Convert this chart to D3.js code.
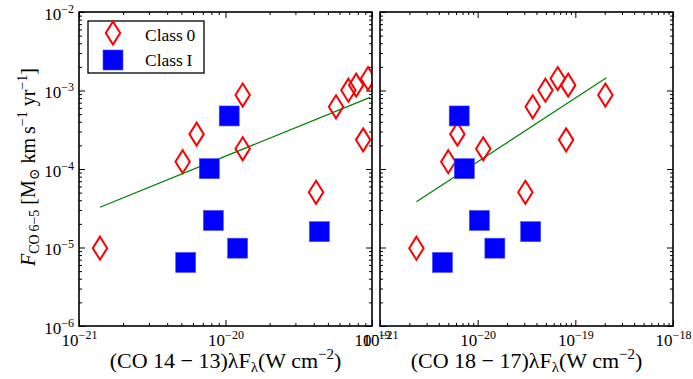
<!DOCTYPE html>
<html>
<head>
<meta charset="utf-8">
<script src="https://cdn.jsdelivr.net/npm/d3@7"></script>
<style>
  html, body { margin: 0; padding: 0; background: #fff; }
  svg { display: block; font-family: "Liberation Serif", "DejaVu Serif", serif; }
</style>
</head>
<body>
<svg id="chart" width="693" height="379"></svg>
<script>
// Outflow force F_CO 6-5 versus high-J CO line flux, Class 0 and Class I sources
const outflowClass0 = [1.24e-4, 2.78e-4, 8.75e-4, 1.81e-4, 5.05e-5, 6.2e-4, 1.01e-3, 1.17e-3, 1.42e-3, 2.35e-4, 9.8e-6];
const co1413Class0  = [5.1e-21, 6.35e-21, 1.31e-20, 1.31e-20, 4.15e-20, 5.68e-20, 6.9e-20, 7.8e-20, 9.4e-20, 8.7e-20, 1.39e-21];
const co1817Class0  = [5.0e-21, 6.2e-21, 2.03e-19, 1.14e-20, 3.08e-20, 3.66e-20, 4.94e-20, 8.45e-20, 6.6e-20, 8.05e-20, 2.36e-21];

const outflowClassI = [4.74e-4, 1.01e-4, 2.21e-5, 9.8e-6, 6.45e-6, 1.59e-5];
const co1413ClassI  = [1.06e-20, 7.75e-21, 8.26e-21, 1.21e-20, 5.35e-21, 4.37e-20];
const co1817ClassI  = [6.47e-21, 7.3e-21, 1.04e-20, 1.5e-20, 4.36e-21, 3.49e-20];

// Power-law fits (end points of each fitted line)
const fit1413X = [1.39e-21, 9.7e-20];
const fit1413Y = [3.26e-5, 8.17e-4];
const fit1817X = [2.36e-21, 2.08e-19];
const fit1817Y = [3.82e-5, 1.45e-3];

const yTickExps = [-6, -5, -4, -3, -2];
const x1413TickExps = [-21, -20, -19];
const x1817TickExps = [-21, -20, -19, -18];

const legendLabels = ["Class\u20090", "Class\u2009I"];

const svg = d3.select("#chart");
const plotTop = 12, plotBottom = 326;

const y = d3.scaleLog().domain([1e-6, 1e-2]).range([plotBottom, plotTop]);

function logTicks(exps) {
  const ticks = [];
  for (let i = 0; i < exps.length; i++) {
    ticks.push({ v: Math.pow(10, exps[i]), major: true, e: exps[i] });
    if (i < exps.length - 1) {
      for (let m = 2; m <= 9; m++) ticks.push({ v: m * Math.pow(10, exps[i]), major: false });
    }
  }
  return ticks;
}

function supLabel(sel, exp, baseSize, supSize) {
  sel.text(null);
  sel.append("tspan").attr("font-size", baseSize).text("10");
  sel.append("tspan").attr("font-size", supSize).attr("dy", -7).text("\u2212" + Math.abs(exp));
}

function diamondPath(cx, cy) {
  const w = 7.2, h = 11.5;
  return `M${cx},${cy - h}L${cx + w},${cy}L${cx},${cy + h}L${cx - w},${cy}Z`;
}

function panel(opts) {
  const { x, xExps, class0X, classIX, fitX, fitY, id, showY } = opts;
  const [x0, x1] = x.range();
  const g = svg.append("g");

  g.append("clipPath").attr("id", id).append("rect")
    .attr("x", x0).attr("y", plotTop).attr("width", x1 - x0).attr("height", plotBottom - plotTop);

  const xt = logTicks(xExps);
  const yt = logTicks(yTickExps);
  const xVals = xt.map(d => d.v), yVals = yt.map(d => d.v);
  const lookupX = new Map(xt.map(d => [d.v, d]));
  const lookupY = new Map(yt.map(d => [d.v, d]));

  function styleTicks(axisG, lookup, sign, dim) {
    axisG.attr("font-family", null).attr("font-size", null);
    axisG.select(".domain").remove();
    axisG.selectAll(".tick line")
      .attr("stroke", "#000").attr("stroke-width", 1)
      .attr(dim, d => (lookup.get(d).major ? 6 : 3) * sign);
  }

  // bottom axis
  const gb = g.append("g").attr("transform", `translate(0,${plotBottom})`)
    .call(d3.axisBottom(x).tickValues(xVals).tickSize(-6).tickPadding(0));
  styleTicks(gb, lookupX, -1, "y2");
  gb.selectAll(".tick text").each(function(d) {
    const t = d3.select(this);
    const info = lookupX.get(d);
    if (!info.major) { t.remove(); return; }
    t.attr("y", 20).attr("dy", 0).attr("fill", "#000");
    supLabel(t, info.e, 17, 12);
  });
  // top axis
  const gt = g.append("g").attr("transform", `translate(0,${plotTop})`)
    .call(d3.axisTop(x).tickValues(xVals).tickSize(-6).tickFormat(""));
  styleTicks(gt, lookupX, 1, "y2");
  // left axis
  const gl = g.append("g").attr("transform", `translate(${x0},0)`)
    .call(d3.axisLeft(y).tickValues(yVals).tickSize(-6).tickPadding(0));
  styleTicks(gl, lookupY, 1, "x2");
  gl.selectAll(".tick text").each(function(d) {
    const t = d3.select(this);
    const info = lookupY.get(d);
    if (!info.major || !showY) { t.remove(); return; }
    t.attr("x", -5).attr("dy", 0).attr("y", 7).attr("fill", "#000").attr("text-anchor", "end");
    supLabel(t, info.e, 17, 12);
  });
  // right axis
  const gr = g.append("g").attr("transform", `translate(${x1},0)`)
    .call(d3.axisRight(y).tickValues(yVals).tickSize(-6).tickFormat(""));
  styleTicks(gr, lookupY, -1, "x2");

  const plot = g.append("g").attr("clip-path", `url(#${id})`);

  const line = d3.line().x(d => x(d[0])).y(d => y(d[1]));
  plot.append("path")
    .datum(fitX.map((v, i) => [v, fitY[i]]))
    .attr("d", line)
    .attr("fill", "none").attr("stroke", "#008000").attr("stroke-width", 1.2);

  plot.selectAll("path.c0").data(class0X.map((v, i) => [v, outflowClass0[i]])).join("path")
    .attr("class", "c0")
    .attr("d", d => diamondPath(x(d[0]), y(d[1])))
    .attr("fill", "none").attr("stroke", "#ff0000").attr("stroke-width", 2);

  plot.selectAll("rect.c1").data(classIX.map((v, i) => [v, outflowClassI[i]])).join("rect")
    .attr("class", "c1")
    .attr("x", d => x(d[0]) - 10).attr("y", d => y(d[1]) - 10)
    .attr("width", 20).attr("height", 20)
    .attr("fill", "#0000ff").attr("stroke", "#4d4dff").attr("stroke-width", 0.6);

  // frame
  g.append("rect").attr("x", x0).attr("y", plotTop).attr("width", x1 - x0).attr("height", plotBottom - plotTop)
    .attr("fill", "none").attr("stroke", "#000").attr("stroke-width", 1.6);
  return g;
}

const xLeft = d3.scaleLog().domain([1e-21, 1e-19]).range([79, 372]);
const xRight = d3.scaleLog().domain([1e-21, 1e-18]).range([380, 673]);

panel({ x: xLeft, xExps: x1413TickExps, class0X: co1413Class0, classIX: co1413ClassI,
        fitX: fit1413X, fitY: fit1413Y, id: "clipL", showY: true });
panel({ x: xRight, xExps: x1817TickExps, class0X: co1817Class0, classIX: co1817ClassI,
        fitX: fit1817X, fitY: fit1817Y, id: "clipR", showY: false });

// x-axis titles
function xTitle(cx, line) {
  const t = svg.append("text").attr("x", cx).attr("y", 368).attr("text-anchor", "middle")
    .attr("font-size", 22).attr("fill", "#000");
  t.append("tspan").text(`(CO ${line})\u03bbF`);
  t.append("tspan").attr("font-size", 15).attr("dy", 4).text("\u03bb");
  t.append("tspan").attr("dy", -4).text("(W cm");
  t.append("tspan").attr("font-size", 15).attr("dy", -9).text("\u22122");
  t.append("tspan").attr("dy", 9).text(")");
}
xTitle(225.5, "14 \u2212 13");
xTitle(526.5, "18 \u2212 17");

// y-axis title
const yTitle = svg.append("text").attr("transform", "translate(35,167) rotate(-90)")
  .attr("text-anchor", "middle").attr("font-size", 20).attr("fill", "#000");
yTitle.append("tspan").attr("font-style", "italic").text("F");
yTitle.append("tspan").attr("font-size", 14).attr("dy", 4).text("CO\u20096\u22125");
yTitle.append("tspan").attr("dy", -4).text(" [M");
yTitle.append("tspan").attr("font-size", 14).attr("dy", 4).text("\u2299");
yTitle.append("tspan").attr("dy", -4).text(" km\u2009s");
yTitle.append("tspan").attr("font-size", 14).attr("dy", -8).text("\u22121");
yTitle.append("tspan").attr("dy", 8).text(" yr");
yTitle.append("tspan").attr("font-size", 14).attr("dy", -8).text("\u22121");
yTitle.append("tspan").attr("dy", 8).text("]");

// legend
const lg = svg.append("g");
lg.append("rect").attr("x", 88).attr("y", 21).attr("width", 116).attr("height", 52)
  .attr("fill", "#fff").attr("stroke", "#000").attr("stroke-width", 1.3);
lg.append("path").attr("d", diamondPath(113, 33))
  .attr("fill", "none").attr("stroke", "#ff0000").attr("stroke-width", 2);
lg.append("rect").attr("x", 103).attr("y", 50).attr("width", 20).attr("height", 20)
  .attr("fill", "#0000ff").attr("stroke", "#4d4dff").attr("stroke-width", 0.6);
lg.selectAll("text").data(legendLabels).join("text")
  .attr("x", 145).attr("y", (d, i) => 41 + i * 25)
  .attr("font-size", 17.5).attr("fill", "#000").text(d => d);
</script>
</body>
</html>
